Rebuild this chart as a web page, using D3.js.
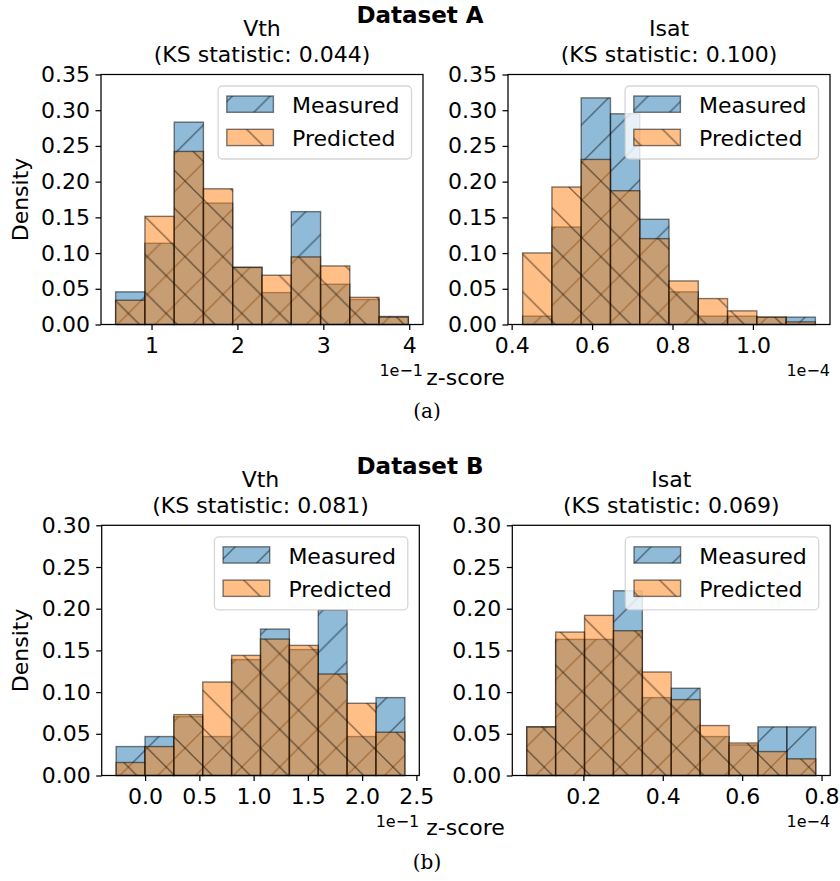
<!DOCTYPE html>
<html>
<head>
<meta charset="utf-8">
<script src="https://cdn.jsdelivr.net/npm/d3@7"></script>
<style>
  html, body { margin: 0; padding: 0; background: #ffffff; }
  svg { display: block; }
</style>
</head>
<body>
<div id="chart"></div>
<script>
// ---------------- DATA ----------------
// Dataset A — Vth (x in units of 1e-1)
const vthAEdges = [0.582, 0.923, 1.264, 1.604, 1.945, 2.286, 2.627, 2.968, 3.308, 3.649, 3.990];
const vthAMeasured  = [0.0457, 0.1137, 0.2833, 0.1700, 0.0800, 0.0447, 0.1580, 0.0564, 0.0350, 0.0112];
const vthAPredicted = [0.0340, 0.1514, 0.2423, 0.1900, 0.0800, 0.0690, 0.0946, 0.0820, 0.0380, 0.0103];
// Dataset A — Isat (x in units of 1e-4)
const isatAEdges = [0.4273, 0.5001, 0.5729, 0.6457, 0.7185, 0.7913, 0.8641, 0.9369, 1.0097, 1.0825, 1.1553];
const isatAMeasured  = [0.0117, 0.1365, 0.3173, 0.2950, 0.1473, 0.0457, 0.0117, 0.0117, 0.0103, 0.0103];
const isatAPredicted = [0.1002, 0.1925, 0.2311, 0.1873, 0.1202, 0.0610, 0.0363, 0.0191, 0.0103, 0.0037];
// Dataset B — Vth (x in units of 1e-1)
const vthBEdges = [-0.267, -0.0009, 0.2652, 0.5313, 0.7974, 1.0635, 1.3296, 1.5957, 1.8618, 2.1279, 2.394];
const vthBMeasured  = [0.0347, 0.0467, 0.0706, 0.0467, 0.1390, 0.1756, 0.1510, 0.1983, 0.0467, 0.0934];
const vthBPredicted = [0.0156, 0.0347, 0.0730, 0.1121, 0.1440, 0.1636, 0.1560, 0.1217, 0.0866, 0.0519];
// Dataset B — Isat (x in units of 1e-4)
const isatBEdges = [0.0574, 0.1302, 0.2030, 0.2758, 0.3486, 0.4214, 0.4942, 0.5670, 0.6398, 0.7126, 0.7854];
const isatBMeasured  = [0.0583, 0.1632, 0.1632, 0.2215, 0.0934, 0.1046, 0.0467, 0.0367, 0.0583, 0.0583];
const isatBPredicted = [0.0583, 0.1720, 0.1920, 0.1736, 0.1241, 0.0910, 0.0599, 0.0390, 0.0287, 0.0200];

// Tick values / labels
const yTicksA = [0, 0.05, 0.10, 0.15, 0.20, 0.25, 0.30, 0.35];
const yTicksB = [0, 0.05, 0.10, 0.15, 0.20, 0.25, 0.30];
const xTicksVthA = [1, 2, 3, 4];
const xTicksIsatA = [0.4, 0.6, 0.8, 1.0];
const xTicksVthB = [0.0, 0.5, 1.0, 1.5, 2.0, 2.5];
const xTicksIsatB = [0.2, 0.4, 0.6, 0.8];
const datasetTitles = ["Dataset A", "Dataset B"];
const panelNames = ["Vth", "Isat"];
const ksStats = [["0.044", "0.100"], ["0.081", "0.069"]];
const offsetLabels = ["1e\u22121", "1e\u22124"];
const seriesNames = ["Measured", "Predicted"];
const subCaptions = ["(a)", "(b)"];

// ---------------- STYLE ----------------
const FONT = "DejaVu Sans";
const BLUE = "#1f77b4", ORANGE = "#ff7f0e";
const W = 840, H = 881;

const svg = d3.select("#chart").append("svg")
  .attr("width", W).attr("height", H)
  .attr("viewBox", `0 0 ${W} ${H}`)
  .style("font-family", FONT);

svg.append("rect").attr("width", W).attr("height", H).attr("fill", "#fff");

// Hatch patterns (anchored to the page, like matplotlib hatches)
const S = 37.8;
const defs = svg.append("defs");
const pF = defs.append("pattern").attr("id", "hatchF")
  .attr("patternUnits", "userSpaceOnUse")
  .attr("x", 26).attr("y", 0).attr("width", S).attr("height", S);
pF.append("path")
  .attr("d", `M0,${S} L${S},0 M${-S},${S} L${S},${-S} M0,${2*S} L${2*S},0`)
  .attr("stroke", "#000").attr("stroke-opacity", 0.5).attr("stroke-width", 1.3).attr("fill", "none");
const pB = defs.append("pattern").attr("id", "hatchB")
  .attr("patternUnits", "userSpaceOnUse")
  .attr("x", 4).attr("y", 0).attr("width", S).attr("height", S);
pB.append("path")
  .attr("d", `M0,0 L${S},${S} M${-S},0 L0,${S} M0,${-S} L${2*S},${S}`)
  .attr("stroke", "#000").attr("stroke-opacity", 0.5).attr("stroke-width", 1.3).attr("fill", "none");

const seriesStyle = [
  { color: BLUE, hatch: "url(#hatchF)" },
  { color: ORANGE, hatch: "url(#hatchB)" }
];

function styledRect(g, x, y, w, h, st) {
  g.append("rect").attr("x", x).attr("y", y).attr("width", w).attr("height", h)
    .attr("fill", st.color).attr("fill-opacity", 0.5);
  g.append("rect").attr("x", x).attr("y", y).attr("width", w).attr("height", h)
    .attr("fill", st.hatch);
  g.append("rect").attr("x", x).attr("y", y).attr("width", w).attr("height", h)
    .attr("fill", "none").attr("stroke", "#000").attr("stroke-opacity", 0.5).attr("stroke-width", 1.4);
}

function drawPanel(cfg) {
  const { edges, series, left, right, top, bottom, yMax, xTicks, yTicks, xFmt,
          titleName, ks, offsetLabel, showYLabel } = cfg;
  const lo = edges[0], hi = edges[edges.length - 1], m = 0.05 * (hi - lo);
  const x = d3.scaleLinear().domain([lo - m, hi + m]).range([left, right]);
  const y = d3.scaleLinear().domain([0, yMax]).range([bottom, top]);
  const g = svg.append("g");

  // bars
  series.forEach((vals, si) => {
    const gs = g.append("g");
    vals.forEach((v, i) => {
      const x0 = x(edges[i]), x1 = x(edges[i + 1]);
      styledRect(gs, x0, y(v), x1 - x0, y(0) - y(v), seriesStyle[si]);
    });
  });

  // axes
  const yAxis = d3.axisLeft(y).tickValues(yTicks).tickFormat(d3.format(".2f"))
    .tickSize(5.5).tickPadding(5.5);
  const xAxis = d3.axisBottom(x).tickValues(xTicks).tickFormat(xFmt)
    .tickSize(5.5).tickPadding(5.5);
  const ya = g.append("g").attr("transform", `translate(${left},0)`).call(yAxis);
  const xa = g.append("g").attr("transform", `translate(0,${bottom})`).call(xAxis);
  [ya, xa].forEach(a => {
    a.select(".domain").remove();
    a.selectAll(".tick line").attr("stroke", "#000").attr("stroke-width", 1.25);
    a.selectAll(".tick text").attr("fill", "#000").style("font-family", FONT).style("font-size", "22px");
  });
  ya.selectAll(".tick text").attr("dy", "0.32em");
  xa.selectAll(".tick text").attr("dy", null).attr("y", 28.5);

  // spines
  g.append("rect").attr("x", left).attr("y", top).attr("width", right - left).attr("height", bottom - top)
    .attr("fill", "none").attr("stroke", "#000").attr("stroke-width", 1.25);

  // titles
  const cx = (left + right) / 2;
  g.append("text").attr("x", cx).attr("y", top - 38.5).attr("text-anchor", "middle")
    .style("font-size", "22px").text(titleName);
  g.append("text").attr("x", cx).attr("y", top - 12.5).attr("text-anchor", "middle")
    .style("font-size", "22px").text(`(KS statistic: ${ks})`);

  // offset text
  g.append("text").attr("x", right).attr("y", bottom + 51.5).attr("text-anchor", "end")
    .style("font-size", "16px").text(offsetLabel);

  if (showYLabel) {
    g.append("text").attr("transform", `translate(28,${(top + bottom) / 2}) rotate(-90)`)
      .attr("text-anchor", "middle").style("font-size", "22px").text("Density");
  }

  // legend
  const lw = 193.4, lh = 73;
  const lx = right - 11.5 - lw, ly = top + 11.5;
  const lg = g.append("g");
  lg.append("rect").attr("x", lx).attr("y", ly).attr("width", lw).attr("height", lh)
    .attr("rx", 4.4).attr("ry", 4.4)
    .attr("fill", "#fff").attr("fill-opacity", 0.8)
    .attr("stroke", "#cccccc").attr("stroke-opacity", 0.8).attr("stroke-width", 1.3);
  seriesNames.forEach((name, i) => {
    styledRect(lg, lx + 8.7, ly + 10 + i * 33.3, 46.6, 16.3, seriesStyle[i]);
    lg.append("text").attr("x", lx + 74).attr("y", ly + 26.7 + i * 33.3)
      .style("font-size", "22px").text(name);
  });
}

const fmt1 = d3.format(".1f");
const fmtInt = d3.format("d");

// ---- Dataset A ----
const topA = 74.5, botA = 324.5;
drawPanel({ edges: vthAEdges, series: [vthAMeasured, vthAPredicted], left: 101, right: 423,
  top: topA, bottom: botA, yMax: 0.35, xTicks: xTicksVthA, yTicks: yTicksA, xFmt: fmtInt,
  titleName: panelNames[0], ks: ksStats[0][0], offsetLabel: offsetLabels[0], showYLabel: true });
drawPanel({ edges: isatAEdges, series: [isatAMeasured, isatAPredicted], left: 508, right: 830,
  top: topA, bottom: botA, yMax: 0.35, xTicks: xTicksIsatA, yTicks: yTicksA, xFmt: fmt1,
  titleName: panelNames[1], ks: ksStats[0][1], offsetLabel: offsetLabels[1], showYLabel: false });

// ---- Dataset B ----
const topB = 525.3, botB = 775.5;
drawPanel({ edges: vthBEdges, series: [vthBMeasured, vthBPredicted], left: 101.7, right: 419.3,
  top: topB, bottom: botB, yMax: 0.30, xTicks: xTicksVthB, yTicks: yTicksB, xFmt: fmt1,
  titleName: panelNames[0], ks: ksStats[1][0], offsetLabel: offsetLabels[0], showYLabel: true });
drawPanel({ edges: isatBEdges, series: [isatBMeasured, isatBPredicted], left: 512.3, right: 830.2,
  top: topB, bottom: botB, yMax: 0.30, xTicks: xTicksIsatB, yTicks: yTicksB, xFmt: fmt1,
  titleName: panelNames[1], ks: ksStats[1][1], offsetLabel: offsetLabels[1], showYLabel: false });

// Figure-level texts
[23, 474].forEach((yy, i) => {
  svg.append("text").attr("x", 420).attr("y", yy).attr("text-anchor", "middle")
    .style("font-size", "23px").style("font-weight", "bold").text(datasetTitles[i]);
});
[385, 835].forEach(yy => {
  svg.append("text").attr("x", 465.5).attr("y", yy).attr("text-anchor", "middle")
    .style("font-size", "22px").text("z-score");
});
[418, 869].forEach((yy, i) => {
  svg.append("text").attr("x", 427).attr("y", yy).attr("text-anchor", "middle")
    .style("font-family", "DejaVu Serif").style("font-size", "20px").text(subCaptions[i]);
});
</script>
</body>
</html>
